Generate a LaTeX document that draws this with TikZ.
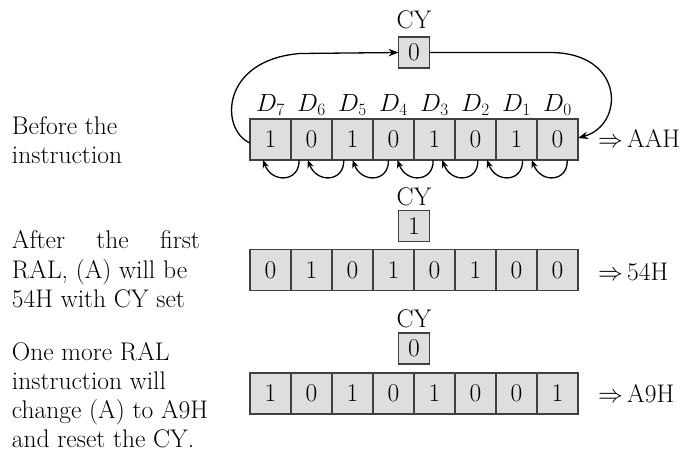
\documentclass[tikz,border=0pt]{standalone}
\usetikzlibrary{arrows.meta}
\begin{document}
\begin{tikzpicture}[x=1pt,y=-1pt,
  every node/.style={font=\fontsize{25.5}{29}\selectfont, text=black, inner sep=0pt, outer sep=0pt},
  cell/.style={draw=black!75, fill=black!13, line width=1.1pt, minimum width=41pt, minimum height=41pt},
  cybox/.style={draw=black!75, fill=black!13, line width=1.1pt, minimum width=31pt, minimum height=31pt},
  conn/.style={line width=1.3pt, -{Stealth[length=10pt,width=7.5pt]}},
  smallarr/.style={line width=1.3pt, -{Stealth[length=8pt,width=6.5pt]}},
  txt/.style={anchor=base west},
  lbl/.style={anchor=base},
]
\useasboundingbox (0,0) rectangle (692,457);

% row 1
\foreach \v [count=\i from 0] in {1,0,1,0,1,0,1,0}
  \node[cell] (a\i) at (270.5+41*\i,139.5) {\raisebox{-2pt}{\v}};
% row 2
\foreach \v [count=\i from 0] in {0,1,0,1,0,1,0,0}
  \node[cell] (b\i) at (270.5+41*\i,270) {\raisebox{-2pt}{\v}};
% row 3
\foreach \v [count=\i from 0] in {1,0,1,0,1,0,0,1}
  \node[cell] (c\i) at (270.5+41*\i,393.5) {\raisebox{-1pt}{\v}};

% D labels
\foreach \i in {0,...,7} {
  \pgfmathtruncatemacro\d{7-\i}
  \node[lbl] (d\i) at (270.5+41*\i,112) {$D_{\d}$};
}

% CY boxes and labels
\node[cybox] (cy1) at (414,52.5) {0};
\node[lbl] (cyl1) at (414,29) {CY};
\node[cybox] (cy2) at (414,226) {1};
\node[lbl] (cyl2) at (414,205) {CY};
\node[cybox] (cy3) at (414,348.5) {0};
\node[lbl] (cyl3) at (414,327) {CY};

% big loop
\draw[conn] ([yshift=-3.5pt]a0.west) .. controls (220,130) and (220,60) .. (300,53.5) -- (cy1.west);
\draw[conn] (cy1.east) -- (550,52.5) .. controls (625,52.5) and (625,125) .. ([yshift=1.5pt]a7.east);

% small shift arrows
\foreach \i in {0,...,6} {
  \coordinate (s\i) at (299+44.7*\i,160);
  \coordinate (h\i) at (263+44.8*\i,160);
  \draw[smallarr] (s\i) .. controls +(1,22) and +(9,24) .. (h\i);
}

% left texts
\node[txt] (t1) at (12,135) {Before the};
\node[txt] (t2) at (12,164) {instruction};
\node[txt] (t3) at (12,248) {\makebox[188pt][s]{After the first}};
\node[txt] (t4) at (12,278) {RAL, (A) will be};
\node[txt] (t5) at (12,307) {54H with CY set};
\node[txt] (t6) at (12,360) {One more RAL};
\node[txt] (t7) at (12,389) {instruction will};
\node[txt] (t8) at (12,418) {change (A) to A9H};
\node[txt] (t9) at (12,447) {and reset the CY.};

% right labels
\node[txt] (r1) at (598,148) {$\Rightarrow$\,AAH};
\node[txt] (r2) at (598,280) {$\Rightarrow$\,54H};
\node[txt] (r3) at (598,402) {$\Rightarrow$\,A9H};
\end{tikzpicture}
\end{document}
